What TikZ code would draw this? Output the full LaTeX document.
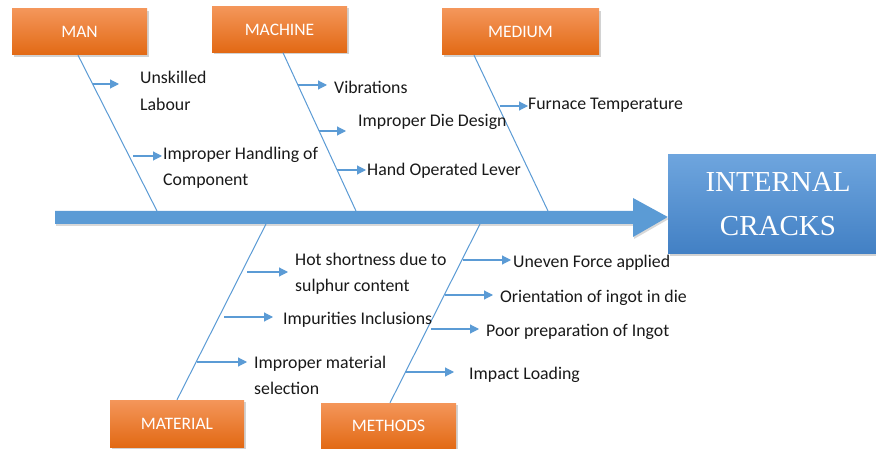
\documentclass[tikz,border=0pt]{standalone}
\usepackage{fontspec}
\setmainfont{Carlito}
\newfontfamily\serifx{Liberation Serif}
\usetikzlibrary{arrows.meta,shadows,calc}
\definecolor{bone}{RGB}{91,155,213}
\definecolor{orTop}{RGB}{244,150,90}
\definecolor{orBot}{RGB}{226,105,20}
\definecolor{blTop}{RGB}{110,165,222}
\definecolor{blBot}{RGB}{66,128,196}
\definecolor{txt}{RGB}{25,25,25}
\tikzset{
  catbox/.style={rectangle, minimum width=135pt, minimum height=46pt, inner sep=0pt,
    top color=orTop, bottom color=orBot, text=white, font=\fontsize{17.5}{20}\selectfont,
    drop shadow={opacity=0.35, shadow xshift=2pt, shadow yshift=-2pt}},
  bonel/.style={draw=bone, line width=1pt},
  sub/.style={draw=bone, line width=1.1pt, -{Triangle[length=9pt,width=9pt]}},
  lbl/.style={anchor=west, inner sep=0pt, align=left, text=txt, font=\fontsize{17.8}{26.5}\selectfont},
}
\begin{document}
\begin{tikzpicture}[x=1pt,y=-1pt]
\useasboundingbox (0,0) rectangle (876,449);
\fill[white] (0,0) rectangle (876,449);

% effect box
\node[rectangle, minimum width=208pt, minimum height=99pt, inner sep=0pt,
  top color=blTop, bottom color=blBot, text=white, align=center,
  font=\serifx\fontsize{29}{44}\selectfont,
  drop shadow={opacity=0.35, shadow xshift=2pt, shadow yshift=-2pt}]
  (effect) at (772,204.5) {\hspace*{12pt}INTERNAL\\\hspace*{12pt}CRACKS};

% spine
\fill[bone, drop shadow={opacity=0.3, shadow xshift=1pt, shadow yshift=-2pt}]
  (55,211) -- (633,211) -- (633,198) -- (effect.west |- 0,217) -- (633,237) -- (633,224) -- (55,224) -- cycle;

% category boxes
\node[catbox] (man) at (79.5,32) {MAN};
\node[catbox] (machine) at (279.5,29.5) {MACHINE};
\node[catbox, minimum width=157pt] (medium) at (520.5,32) {MEDIUM};
\node[catbox, minimum width=134pt, minimum height=47pt] (material) at (177,423.5) {MATERIAL};
\node[catbox] (methods) at (388.5,426) {METHODS};

% bone ends on spine
\coordinate (manS) at (157,211);
\coordinate (macS) at (356,211);
\coordinate (medS) at (548,211);
\coordinate (matS) at (266,224);
\coordinate (metS) at (480,224);

\draw[bonel] (man.south -| 78,0) -- (manS);
\draw[bonel] (machine.south -| 283,0) -- (macS);
\draw[bonel] (medium.south -| 474,0) -- (medS);
\draw[bonel] (material.north) -- (matS);
\draw[bonel] (methods.north -| 390,0) -- (metS);

% labels
\node[lbl] (l1) at (140,91) {Unskilled\\Labour};
\node[lbl] (l2) at (163,168) {Improper Handling of\\Component};
\node[lbl] (l3) at (334,87) {Vibrations};
\node[lbl] (l4) at (358,122) {Improper Die Design};
\node[lbl] (l5) at (367,171) {Hand Operated Lever};
\node[lbl] (l6) at (528,105) {Furnace Temperature};
\node[lbl] (l7) at (295,274) {Hot shortness due to\\sulphur content};
\node[lbl] (l8) at (283,320) {Impurities Inclusions};
\node[lbl] (l9) at (254,375.5) {Improper material\\selection};
\node[lbl] (l10) at (513,263) {Uneven Force applied};
\node[lbl] (l11) at (500,298) {Orientation of ingot in die};
\node[lbl] (l12) at (486,332) {Poor preparation of Ingot};
\node[lbl] (l13) at (469,375) {Impact Loading};

% sub arrows
\coordinate (a1) at (93,84);   \coordinate (b1) at (119,84);
\coordinate (a2) at (133,156); \coordinate (b2) at (162,156);
\coordinate (a3) at (298,85);  \coordinate (b3) at (327,85);
\coordinate (a4) at (319,131); \coordinate (b4) at (346,131);
\coordinate (a5) at (337,170); \coordinate (b5) at (366,170);
\coordinate (a6) at (500,106); \coordinate (b6) at (528,106);
\coordinate (a7) at (247,272); \coordinate (b7) at (288,272);
\coordinate (a8) at (224,317); \coordinate (b8) at (273,317);
\coordinate (a9) at (197,362); \coordinate (b9) at (247,362);
\coordinate (a10) at (463,260); \coordinate (b10) at (511,260);
\coordinate (a11) at (445,295); \coordinate (b11) at (493,295);
\coordinate (a12) at (431,329); \coordinate (b12) at (479,329);
\coordinate (a13) at (405,372); \coordinate (b13) at (454,372);
\foreach \i in {1,...,13} {\draw[sub] (a\i) -- (b\i);}
\end{tikzpicture}
\end{document}
